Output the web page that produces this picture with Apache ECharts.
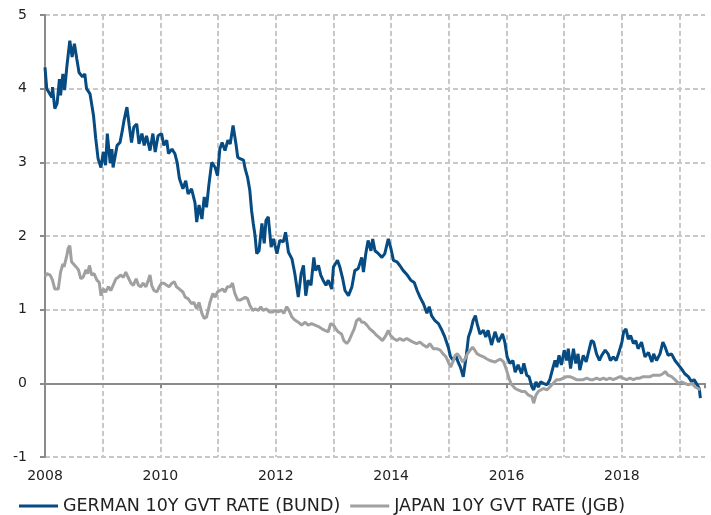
<!DOCTYPE html>
<html>
<head>
<meta charset="utf-8">
<script src="https://cdn.jsdelivr.net/npm/echarts@6/dist/echarts.min.js"></script>
<style>
  html, body { margin: 0; padding: 0; background: #fff; }
  #chart { width: 711px; height: 515px; }
</style>
</head>
<body>
<div id="chart"></div>
<script>
// [decimal year, yield %]
const bund = [
  [2008.00,4.29],[2008.03,4.00],[2008.12,3.88],[2008.13,4.02],[2008.17,3.73],[2008.21,3.80],[2008.25,4.13],[2008.27,3.91],[2008.31,4.20],[2008.34,3.98],
  [2008.38,4.31],[2008.43,4.65],[2008.47,4.43],[2008.51,4.61],[2008.55,4.41],[2008.59,4.22],[2008.65,4.16],[2008.69,4.20],[2008.72,4.00],[2008.78,3.93],
  [2008.84,3.64],[2008.88,3.32],[2008.92,3.05],[2008.97,2.93],[2009.01,3.14],[2009.05,2.96],[2009.08,3.39],[2009.13,2.99],[2009.16,3.18],[2009.18,2.93],
  [2009.25,3.23],[2009.30,3.27],[2009.34,3.43],[2009.37,3.57],[2009.42,3.75],[2009.46,3.50],[2009.50,3.27],[2009.54,3.48],[2009.59,3.52],[2009.63,3.25],
  [2009.68,3.39],[2009.72,3.23],[2009.76,3.36],[2009.82,3.16],[2009.87,3.39],[2009.91,3.14],[2009.96,3.36],[2010.02,3.39],[2010.06,3.23],[2010.11,3.30],
  [2010.14,3.12],[2010.20,3.18],[2010.25,3.12],[2010.29,3.00],[2010.33,2.78],[2010.39,2.64],[2010.44,2.75],[2010.48,2.57],[2010.54,2.64],[2010.60,2.45],
  [2010.63,2.19],[2010.67,2.42],[2010.72,2.23],[2010.76,2.53],[2010.80,2.39],[2010.84,2.69],[2010.89,3.00],[2010.95,2.93],[2010.99,2.82],[2011.03,3.18],
  [2011.07,3.27],[2011.12,3.16],[2011.17,3.30],[2011.21,3.25],[2011.26,3.50],[2011.31,3.25],[2011.34,3.07],[2011.38,3.05],[2011.44,3.03],[2011.47,2.91],
  [2011.51,2.80],[2011.55,2.62],[2011.58,2.35],[2011.61,2.17],[2011.64,2.01],[2011.67,1.76],[2011.71,1.80],[2011.76,2.17],[2011.80,1.90],[2011.83,2.21],
  [2011.87,2.26],[2011.92,1.85],[2011.96,1.96],[2012.02,1.76],[2012.07,1.94],[2012.13,1.92],[2012.17,2.05],[2012.22,1.78],[2012.28,1.69],[2012.33,1.49],
  [2012.39,1.17],[2012.44,1.49],[2012.48,1.60],[2012.52,1.19],[2012.56,1.40],[2012.61,1.33],[2012.66,1.71],[2012.69,1.53],[2012.74,1.60],[2012.78,1.47],
  [2012.82,1.40],[2012.87,1.33],[2012.91,1.40],[2012.97,1.28],[2013.00,1.58],[2013.07,1.67],[2013.11,1.58],[2013.16,1.42],[2013.20,1.26],[2013.26,1.19],
  [2013.32,1.31],[2013.37,1.53],[2013.43,1.56],[2013.49,1.71],[2013.52,1.51],[2013.56,1.76],[2013.60,1.94],[2013.65,1.80],[2013.68,1.96],[2013.72,1.80],
  [2013.78,1.76],[2013.84,1.71],[2013.89,1.76],[2013.95,1.96],[2013.99,1.85],[2014.04,1.67],[2014.10,1.65],[2014.15,1.60],[2014.21,1.53],[2014.28,1.47],
  [2014.34,1.40],[2014.40,1.37],[2014.45,1.26],[2014.50,1.17],[2014.56,1.08],[2014.62,0.95],[2014.66,1.04],[2014.70,0.92],[2014.76,0.85],[2014.82,0.81],
  [2014.88,0.72],[2014.93,0.63],[2014.99,0.49],[2015.03,0.36],[2015.08,0.31],[2015.12,0.38],[2015.16,0.29],[2015.20,0.22],[2015.25,0.09],[2015.30,0.36],
  [2015.34,0.63],[2015.38,0.72],[2015.42,0.85],[2015.46,0.92],[2015.49,0.81],[2015.54,0.67],[2015.60,0.72],[2015.64,0.63],[2015.68,0.72],[2015.74,0.52],
  [2015.80,0.70],[2015.86,0.56],[2015.89,0.54],[2015.93,0.67],[2015.97,0.56],[2016.01,0.36],[2016.06,0.27],[2016.11,0.31],[2016.15,0.15],[2016.20,0.25],
  [2016.26,0.13],[2016.30,0.27],[2016.35,0.11],[2016.39,0.09],[2016.44,-0.05],[2016.47,-0.09],[2016.51,0.02],[2016.55,-0.05],[2016.59,0.02],[2016.64,0.00],
  [2016.70,-0.02],[2016.75,0.05],[2016.80,0.20],[2016.84,0.31],[2016.87,0.22],[2016.91,0.38],[2016.95,0.25],[2017.00,0.45],[2017.04,0.31],[2017.07,0.47],
  [2017.11,0.20],[2017.16,0.47],[2017.20,0.27],[2017.24,0.40],[2017.27,0.18],[2017.33,0.38],[2017.38,0.29],[2017.42,0.42],[2017.47,0.58],[2017.51,0.56],
  [2017.56,0.40],[2017.61,0.31],[2017.65,0.38],[2017.71,0.45],[2017.76,0.40],[2017.80,0.31],[2017.85,0.36],[2017.90,0.31],[2017.94,0.40],[2018.00,0.56],
  [2018.03,0.70],[2018.07,0.74],[2018.11,0.60],[2018.15,0.65],[2018.20,0.54],[2018.24,0.58],[2018.28,0.47],[2018.34,0.56],[2018.40,0.36],[2018.46,0.42],
  [2018.52,0.29],[2018.55,0.40],[2018.60,0.31],[2018.66,0.40],[2018.71,0.56],[2018.75,0.49],[2018.80,0.38],[2018.86,0.40],[2018.92,0.31],[2018.98,0.25],
  [2019.03,0.20],[2019.09,0.13],[2019.15,0.09],[2019.21,0.02],[2019.25,0.05],[2019.29,0.00],[2019.34,-0.07],[2019.36,-0.20]
];

const jgb = [
  [2008.00,1.45],[2008.03,1.49],[2008.09,1.47],[2008.13,1.40],[2008.17,1.28],[2008.23,1.28],[2008.27,1.51],[2008.31,1.62],[2008.33,1.58],[2008.38,1.74],[2008.40,1.83],
  [2008.43,1.87],[2008.46,1.65],[2008.49,1.65],[2008.54,1.58],[2008.58,1.54],[2008.62,1.42],[2008.66,1.44],[2008.71,1.54],[2008.74,1.49],[2008.77,1.60],
  [2008.81,1.47],[2008.85,1.49],[2008.90,1.40],[2008.94,1.37],[2008.97,1.19],[2009.01,1.28],[2009.05,1.24],[2009.10,1.31],[2009.14,1.26],[2009.18,1.33],
  [2009.23,1.42],[2009.27,1.44],[2009.31,1.47],[2009.36,1.44],[2009.40,1.51],[2009.44,1.44],[2009.49,1.36],[2009.53,1.33],[2009.58,1.42],[2009.62,1.33],
  [2009.66,1.31],[2009.70,1.36],[2009.75,1.31],[2009.79,1.40],[2009.82,1.47],[2009.85,1.33],[2009.89,1.26],[2009.94,1.24],[2009.98,1.31],[2010.02,1.36],
  [2010.06,1.36],[2010.11,1.33],[2010.15,1.31],[2010.20,1.36],[2010.24,1.38],[2010.28,1.31],[2010.33,1.28],[2010.39,1.24],[2010.43,1.17],[2010.48,1.15],
  [2010.54,1.08],[2010.58,1.10],[2010.63,1.01],[2010.67,1.10],[2010.72,0.95],[2010.76,0.88],[2010.80,0.90],[2010.86,1.10],[2010.91,1.22],[2010.95,1.17],
  [2010.99,1.24],[2011.03,1.26],[2011.08,1.28],[2011.12,1.24],[2011.16,1.31],[2011.21,1.31],[2011.25,1.36],[2011.29,1.22],[2011.34,1.13],[2011.38,1.13],
  [2011.43,1.15],[2011.47,1.17],[2011.51,1.15],[2011.55,1.06],[2011.60,0.99],[2011.64,1.01],[2011.70,0.99],[2011.74,1.04],[2011.78,0.99],[2011.84,1.01],
  [2011.89,0.97],[2011.95,0.97],[2011.99,0.99],[2012.04,0.97],[2012.10,0.99],[2012.14,0.95],[2012.19,1.04],[2012.23,0.99],[2012.28,0.90],[2012.33,0.86],
  [2012.39,0.83],[2012.45,0.79],[2012.51,0.83],[2012.56,0.79],[2012.62,0.81],[2012.68,0.79],[2012.74,0.77],[2012.80,0.74],[2012.85,0.72],[2012.91,0.70],
  [2012.95,0.81],[2013.00,0.79],[2013.04,0.74],[2013.08,0.70],[2013.14,0.67],[2013.18,0.58],[2013.23,0.54],[2013.27,0.58],[2013.32,0.67],[2013.36,0.74],
  [2013.40,0.85],[2013.45,0.88],[2013.49,0.83],[2013.53,0.83],[2013.58,0.79],[2013.63,0.74],[2013.69,0.70],[2013.75,0.65],[2013.81,0.61],[2013.85,0.58],
  [2013.91,0.65],[2013.95,0.72],[2013.99,0.65],[2014.04,0.61],[2014.10,0.58],[2014.15,0.61],[2014.21,0.58],[2014.27,0.61],[2014.33,0.58],[2014.38,0.56],
  [2014.44,0.54],[2014.50,0.56],[2014.56,0.52],[2014.62,0.49],[2014.67,0.54],[2014.73,0.47],[2014.79,0.47],[2014.85,0.45],[2014.90,0.40],[2014.95,0.36],
  [2014.99,0.29],[2015.03,0.22],[2015.07,0.29],[2015.11,0.38],[2015.15,0.40],[2015.19,0.36],[2015.24,0.29],[2015.28,0.33],[2015.32,0.40],[2015.37,0.45],
  [2015.41,0.49],[2015.45,0.45],[2015.49,0.40],[2015.54,0.38],[2015.60,0.36],[2015.66,0.33],[2015.71,0.31],[2015.80,0.29],[2015.89,0.33],[2015.95,0.29],
  [2016.00,0.18],[2016.05,0.05],[2016.09,-0.02],[2016.15,-0.07],[2016.20,-0.09],[2016.26,-0.11],[2016.32,-0.11],[2016.38,-0.16],[2016.44,-0.18],[2016.47,-0.27],
  [2016.51,-0.16],[2016.55,-0.11],[2016.59,-0.09],[2016.64,-0.07],[2016.70,-0.09],[2016.75,-0.05],[2016.81,0.00],[2016.87,0.05],[2016.93,0.05],[2016.98,0.07],
  [2017.04,0.09],[2017.10,0.09],[2017.16,0.07],[2017.21,0.05],[2017.27,0.05],[2017.33,0.05],[2017.39,0.07],[2017.45,0.05],[2017.50,0.05],[2017.56,0.07],
  [2017.62,0.05],[2017.68,0.07],[2017.73,0.05],[2017.79,0.07],[2017.85,0.05],[2017.91,0.07],[2017.97,0.09],[2018.02,0.07],[2018.08,0.05],[2018.14,0.07],
  [2018.20,0.05],[2018.26,0.07],[2018.31,0.07],[2018.37,0.09],[2018.43,0.09],[2018.49,0.09],[2018.54,0.11],[2018.60,0.11],[2018.66,0.11],[2018.71,0.13],
  [2018.75,0.16],[2018.80,0.11],[2018.86,0.09],[2018.92,0.05],[2018.98,0.00],[2019.03,0.02],[2019.09,0.00],[2019.15,-0.02],[2019.21,0.00],[2019.27,-0.05],
  [2019.32,-0.07],[2019.36,-0.09]
];

const seriesNames = ['GERMAN 10Y GVT RATE (BUND)', 'JAPAN 10Y GVT RATE (JGB)'];
const colors = ['#064b82', '#a0a0a0'];

const chart = echarts.init(document.getElementById('chart'));
const axisGray = '#8a8a8a';
const gridGray = '#c8c8c8';
const font = 'DejaVu Sans';
const plotRect = { left: 45, right: 6, top: 15, bottom: 58 };

chart.setOption({
  animation: false,
  color: colors,
  // grid 0 holds the data, grid 1 only draws the zero line with its ticks
  grid: [Object.assign({}, plotRect), Object.assign({}, plotRect)],
  legend: {
    left: 14,
    top: 492,
    itemWidth: 39,
    itemHeight: 3,
    itemGap: 10,
    icon: 'rect',
    textStyle: { fontFamily: font, fontSize: 17.5, color: '#222' },
    data: seriesNames
  },
  xAxis: [{
    gridIndex: 0,
    type: 'value',
    min: 2008,
    max: 2019.44,
    interval: 1,
    axisLine: { show: false, onZero: false },
    axisTick: { show: false },
    axisLabel: {
      formatter: function (v) { return (v % 2 === 0) ? String(v) : ''; },
      margin: 12,
      fontFamily: font,
      fontSize: 14,
      color: '#222'
    },
    splitLine: { show: true, showMaxLine: false, lineStyle: { color: gridGray, width: 2, type: [5, 3] } }
  }, {
    gridIndex: 1,
    type: 'value',
    position: 'bottom',
    min: 2008,
    max: 2019.44,
    interval: 2,
    axisLine: { show: true, onZero: true, lineStyle: { color: axisGray, width: 2 } },
    axisTick: { show: true, length: 5, lineStyle: { color: axisGray, width: 2 } },
    axisLabel: { show: false },
    splitLine: { show: false }
  }],
  yAxis: [{
    gridIndex: 0,
    type: 'value',
    min: -1,
    max: 5,
    interval: 1,
    axisLine: { show: true, lineStyle: { color: axisGray, width: 2 } },
    axisTick: { show: true, length: 5, lineStyle: { color: axisGray, width: 2 } },
    axisLabel: { margin: 18, fontFamily: font, fontSize: 14, color: '#222' },
    splitLine: { show: true, lineStyle: { color: gridGray, width: 2, type: [5, 3] } }
  }, {
    gridIndex: 1,
    type: 'value',
    min: -1,
    max: 5,
    interval: 1,
    show: false
  }],
  series: [{
    name: seriesNames[0],
    type: 'line',
    data: bund,
    showSymbol: false,
    lineStyle: { width: 3, color: colors[0] },
    z: 3
  }, {
    name: seriesNames[1],
    type: 'line',
    data: jgb,
    showSymbol: false,
    lineStyle: { width: 3, color: colors[1] },
    z: 4
  }]
});
</script>
</body>
</html>
